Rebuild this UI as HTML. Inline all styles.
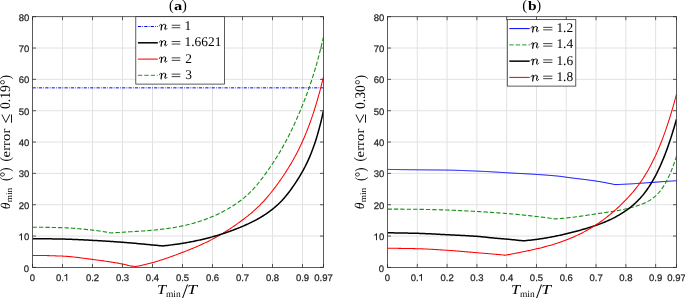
<!DOCTYPE html><html><head><meta charset="utf-8"><style>
html,body{margin:0;padding:0;background:#fff;overflow:hidden;}
svg{display:block;will-change:transform;}
text{text-rendering:geometricPrecision;}
.tk{font-family:"Liberation Sans",sans-serif;font-size:9.5px;fill:#262626;stroke:#262626;stroke-width:0.25px;}
.lg{font-family:"Liberation Serif",serif;font-size:13.4px;fill:#000;}
</style></head><body>
<svg width="685" height="298" viewBox="0 0 685 298">
<rect width="685" height="298" fill="#fff"/>
<line x1="62.50" y1="16.7" x2="62.50" y2="267.4" stroke="#e2e2e2"/>
<line x1="92.50" y1="16.7" x2="92.50" y2="267.4" stroke="#e2e2e2"/>
<line x1="122.50" y1="16.7" x2="122.50" y2="267.4" stroke="#e2e2e2"/>
<line x1="152.50" y1="16.7" x2="152.50" y2="267.4" stroke="#e2e2e2"/>
<line x1="182.50" y1="16.7" x2="182.50" y2="267.4" stroke="#e2e2e2"/>
<line x1="212.50" y1="16.7" x2="212.50" y2="267.4" stroke="#e2e2e2"/>
<line x1="242.50" y1="16.7" x2="242.50" y2="267.4" stroke="#e2e2e2"/>
<line x1="272.50" y1="16.7" x2="272.50" y2="267.4" stroke="#e2e2e2"/>
<line x1="302.50" y1="16.7" x2="302.50" y2="267.4" stroke="#e2e2e2"/>
<line x1="32.5" y1="236.06" x2="323.5" y2="236.06" stroke="#e2e2e2"/>
<line x1="32.5" y1="204.72" x2="323.5" y2="204.72" stroke="#e2e2e2"/>
<line x1="32.5" y1="173.39" x2="323.5" y2="173.39" stroke="#e2e2e2"/>
<line x1="32.5" y1="142.05" x2="323.5" y2="142.05" stroke="#e2e2e2"/>
<line x1="32.5" y1="110.71" x2="323.5" y2="110.71" stroke="#e2e2e2"/>
<line x1="32.5" y1="79.37" x2="323.5" y2="79.37" stroke="#e2e2e2"/>
<line x1="32.5" y1="48.04" x2="323.5" y2="48.04" stroke="#e2e2e2"/>
<line x1="417.29" y1="16.7" x2="417.29" y2="267.4" stroke="#e2e2e2"/>
<line x1="447.09" y1="16.7" x2="447.09" y2="267.4" stroke="#e2e2e2"/>
<line x1="476.88" y1="16.7" x2="476.88" y2="267.4" stroke="#e2e2e2"/>
<line x1="506.68" y1="16.7" x2="506.68" y2="267.4" stroke="#e2e2e2"/>
<line x1="536.47" y1="16.7" x2="536.47" y2="267.4" stroke="#e2e2e2"/>
<line x1="566.26" y1="16.7" x2="566.26" y2="267.4" stroke="#e2e2e2"/>
<line x1="596.06" y1="16.7" x2="596.06" y2="267.4" stroke="#e2e2e2"/>
<line x1="625.85" y1="16.7" x2="625.85" y2="267.4" stroke="#e2e2e2"/>
<line x1="655.64" y1="16.7" x2="655.64" y2="267.4" stroke="#e2e2e2"/>
<line x1="387.5" y1="236.06" x2="676.5" y2="236.06" stroke="#e2e2e2"/>
<line x1="387.5" y1="204.72" x2="676.5" y2="204.72" stroke="#e2e2e2"/>
<line x1="387.5" y1="173.39" x2="676.5" y2="173.39" stroke="#e2e2e2"/>
<line x1="387.5" y1="142.05" x2="676.5" y2="142.05" stroke="#e2e2e2"/>
<line x1="387.5" y1="110.71" x2="676.5" y2="110.71" stroke="#e2e2e2"/>
<line x1="387.5" y1="79.37" x2="676.5" y2="79.37" stroke="#e2e2e2"/>
<line x1="387.5" y1="48.04" x2="676.5" y2="48.04" stroke="#e2e2e2"/>
<defs><clipPath id="ca"><rect x="32.5" y="16.7" width="291.0" height="250.7"/></clipPath><clipPath id="cb"><rect x="387.5" y="16.7" width="289.0" height="250.7"/></clipPath></defs>
<g clip-path="url(#ca)">
<line x1="32.5" y1="87.85" x2="323.5" y2="87.85" stroke="#0000ff" stroke-width="1" stroke-dasharray="3.2 1.2 0.8 1.2" fill="none"/>
<path d="M32.50,227.19 L33.52,227.19 L34.54,227.20 L35.56,227.20 L36.58,227.21 L37.60,227.21 L38.62,227.22 L39.65,227.23 L40.67,227.24 L41.69,227.25 L42.71,227.27 L43.73,227.28 L44.75,227.29 L45.77,227.31 L46.79,227.33 L47.81,227.35 L48.83,227.37 L49.85,227.39 L50.87,227.41 L51.89,227.43 L52.92,227.45 L53.94,227.48 L54.96,227.50 L55.98,227.52 L57.00,227.55 L58.02,227.58 L59.04,227.60 L60.06,227.63 L61.08,227.66 L62.10,227.68 L63.12,227.71 L64.14,227.75 L65.16,227.79 L66.19,227.83 L67.21,227.88 L68.23,227.93 L69.25,227.99 L70.27,228.05 L71.29,228.12 L72.31,228.19 L73.33,228.26 L74.35,228.34 L75.37,228.42 L76.39,228.50 L77.41,228.59 L78.44,228.68 L79.46,228.77 L80.48,228.87 L81.50,228.96 L82.52,229.06 L83.54,229.16 L84.56,229.27 L85.58,229.37 L86.60,229.48 L87.62,229.58 L88.64,229.69 L89.66,229.80 L90.68,229.91 L91.71,230.02 L92.73,230.13 L93.75,230.25 L94.77,230.37 L95.79,230.50 L96.81,230.64 L97.83,230.78 L98.85,230.92 L99.87,231.08 L100.89,231.23 L101.91,231.39 L102.93,231.56 L103.95,231.73 L104.98,231.90 L106.00,232.08 L107.02,232.26 L108.04,232.44 L109.06,232.62 L110.08,232.80 L111.10,232.99 L112.11,232.92 L113.11,232.84 L114.12,232.77 L115.13,232.70 L116.13,232.63 L117.14,232.57 L118.15,232.50 L119.15,232.44 L120.16,232.37 L121.17,232.31 L122.17,232.25 L123.18,232.19 L124.19,232.12 L125.19,232.06 L126.20,232.00 L127.21,231.94 L128.21,231.88 L129.22,231.82 L130.23,231.76 L131.23,231.70 L132.24,231.64 L133.25,231.58 L134.25,231.52 L135.26,231.46 L136.27,231.40 L137.27,231.33 L138.28,231.27 L139.29,231.20 L140.29,231.14 L141.30,231.07 L142.31,231.00 L143.31,230.93 L144.32,230.86 L145.33,230.78 L146.33,230.71 L147.34,230.63 L148.35,230.55 L149.35,230.47 L150.36,230.38 L151.37,230.30 L152.37,230.21 L153.38,230.12 L154.39,230.02 L155.39,229.93 L156.40,229.83 L157.41,229.72 L158.41,229.62 L159.42,229.51 L160.43,229.40 L161.43,229.28 L162.44,229.16 L163.45,229.04 L164.45,228.91 L165.46,228.78 L166.46,228.65 L167.47,228.51 L168.48,228.37 L169.48,228.22 L170.49,228.07 L171.50,227.92 L172.50,227.76 L173.51,227.60 L174.52,227.43 L175.52,227.25 L176.53,227.07 L177.54,226.89 L178.54,226.70 L179.55,226.51 L180.56,226.31 L181.56,226.10 L182.57,225.89 L183.58,225.67 L184.58,225.45 L185.59,225.22 L186.60,224.99 L187.60,224.75 L188.61,224.50 L189.62,224.25 L190.62,223.99 L191.63,223.72 L192.64,223.45 L193.64,223.17 L194.65,222.88 L195.66,222.59 L196.66,222.29 L197.67,221.98 L198.68,221.67 L199.68,221.35 L200.69,221.02 L201.70,220.68 L202.70,220.33 L203.71,219.98 L204.72,219.62 L205.72,219.25 L206.73,218.87 L207.74,218.49 L208.74,218.09 L209.75,217.69 L210.76,217.28 L211.76,216.86 L212.77,216.43 L213.78,216.00 L214.78,215.55 L215.79,215.09 L216.80,214.63 L217.80,214.16 L218.81,213.67 L219.82,213.18 L220.82,212.68 L221.83,212.16 L222.84,211.64 L223.84,211.11 L224.85,210.57 L225.86,210.02 L226.86,209.45 L227.87,208.88 L228.88,208.30 L229.88,207.70 L230.89,207.10 L231.90,206.48 L232.90,205.85 L233.91,205.21 L234.92,204.55 L235.92,203.88 L236.93,203.20 L237.94,202.49 L238.94,201.77 L239.95,201.03 L240.96,200.27 L241.96,199.49 L242.97,198.68 L243.98,197.86 L244.98,197.01 L245.99,196.14 L247.00,195.25 L248.00,194.32 L249.01,193.38 L250.02,192.40 L251.02,191.40 L252.03,190.36 L253.04,189.30 L254.04,188.20 L255.05,187.08 L256.06,185.92 L257.06,184.73 L258.07,183.51 L259.08,182.27 L260.08,181.00 L261.09,179.70 L262.10,178.38 L263.10,177.05 L264.11,175.69 L265.12,174.32 L266.12,172.93 L267.13,171.52 L268.14,170.10 L269.14,168.66 L270.15,167.20 L271.15,165.73 L272.16,164.23 L273.17,162.71 L274.17,161.16 L275.18,159.60 L276.19,158.01 L277.19,156.39 L278.20,154.75 L279.21,153.07 L280.21,151.38 L281.22,149.65 L282.23,147.89 L283.23,146.11 L284.24,144.29 L285.25,142.44 L286.25,140.56 L287.26,138.64 L288.27,136.69 L289.27,134.71 L290.28,132.69 L291.29,130.64 L292.29,128.55 L293.30,126.42 L294.31,124.26 L295.31,122.06 L296.32,119.83 L297.33,117.56 L298.33,115.24 L299.34,112.89 L300.35,110.50 L301.35,108.08 L302.36,105.61 L303.37,103.10 L304.37,100.54 L305.38,97.93 L306.39,95.27 L307.39,92.55 L308.40,89.77 L309.41,86.91 L310.41,83.98 L311.42,80.97 L312.43,77.87 L313.43,74.69 L314.44,71.41 L315.45,68.02 L316.45,64.54 L317.46,60.94 L318.47,57.23 L319.47,53.39 L320.48,49.43 L321.49,45.35 L322.49,41.12 L323.50,36.76" stroke="#149114" stroke-width="1.1" stroke-dasharray="4.4 2.0" fill="none"/>
<path d="M32.50,255.40 L33.51,255.40 L34.53,255.40 L35.54,255.41 L36.56,255.42 L37.57,255.42 L38.59,255.44 L39.60,255.45 L40.62,255.46 L41.63,255.48 L42.65,255.50 L43.66,255.52 L44.68,255.54 L45.69,255.57 L46.71,255.59 L47.72,255.62 L48.74,255.64 L49.75,255.67 L50.76,255.70 L51.78,255.73 L52.79,255.77 L53.81,255.80 L54.82,255.83 L55.84,255.87 L56.85,255.90 L57.87,255.94 L58.88,255.98 L59.90,256.02 L60.91,256.06 L61.93,256.10 L62.94,256.14 L63.96,256.18 L64.97,256.24 L65.99,256.30 L67.00,256.37 L68.01,256.45 L69.03,256.53 L70.04,256.62 L71.06,256.72 L72.07,256.82 L73.09,256.92 L74.10,257.03 L75.12,257.15 L76.13,257.27 L77.15,257.39 L78.16,257.51 L79.18,257.64 L80.19,257.77 L81.21,257.90 L82.22,258.04 L83.24,258.17 L84.25,258.31 L85.26,258.45 L86.28,258.58 L87.29,258.72 L88.31,258.86 L89.32,258.99 L90.34,259.13 L91.35,259.26 L92.37,259.39 L93.38,259.52 L94.40,259.65 L95.41,259.79 L96.43,259.92 L97.44,260.05 L98.46,260.19 L99.47,260.33 L100.49,260.47 L101.50,260.61 L102.51,260.75 L103.53,260.89 L104.54,261.04 L105.56,261.19 L106.57,261.34 L107.59,261.49 L108.60,261.64 L109.62,261.80 L110.63,261.96 L111.65,262.12 L112.66,262.28 L113.68,262.45 L114.69,262.62 L115.71,262.79 L116.72,262.96 L117.74,263.14 L118.75,263.32 L119.76,263.51 L120.78,263.69 L121.79,263.88 L122.81,264.08 L123.82,264.30 L124.84,264.55 L125.85,264.82 L126.87,265.10 L127.88,265.37 L128.90,265.61 L129.91,265.83 L130.93,266.01 L131.94,266.13 L132.96,266.24 L133.97,266.34 L134.99,266.41 L136.00,266.46 L137.01,266.28 L138.02,266.10 L139.02,265.90 L140.03,265.70 L141.04,265.49 L142.05,265.28 L143.06,265.05 L144.06,264.83 L145.07,264.59 L146.08,264.35 L147.09,264.10 L148.10,263.85 L149.10,263.58 L150.11,263.32 L151.12,263.05 L152.13,262.77 L153.14,262.49 L154.15,262.20 L155.15,261.90 L156.16,261.60 L157.17,261.30 L158.18,260.99 L159.19,260.68 L160.19,260.36 L161.20,260.04 L162.21,259.71 L163.22,259.38 L164.23,259.04 L165.23,258.71 L166.24,258.36 L167.25,258.02 L168.26,257.67 L169.27,257.31 L170.27,256.95 L171.28,256.59 L172.29,256.23 L173.30,255.86 L174.31,255.49 L175.31,255.12 L176.32,254.75 L177.33,254.37 L178.34,253.99 L179.35,253.61 L180.35,253.22 L181.36,252.84 L182.37,252.45 L183.38,252.06 L184.39,251.67 L185.40,251.28 L186.40,250.88 L187.41,250.48 L188.42,250.08 L189.43,249.68 L190.44,249.27 L191.44,248.86 L192.45,248.45 L193.46,248.03 L194.47,247.61 L195.48,247.18 L196.48,246.75 L197.49,246.32 L198.50,245.88 L199.51,245.44 L200.52,244.99 L201.52,244.53 L202.53,244.07 L203.54,243.60 L204.55,243.13 L205.56,242.65 L206.56,242.17 L207.57,241.67 L208.58,241.17 L209.59,240.67 L210.60,240.15 L211.60,239.63 L212.61,239.10 L213.62,238.57 L214.63,238.02 L215.64,237.47 L216.65,236.91 L217.65,236.34 L218.66,235.76 L219.67,235.18 L220.68,234.59 L221.69,233.99 L222.69,233.38 L223.70,232.77 L224.71,232.15 L225.72,231.52 L226.73,230.88 L227.73,230.24 L228.74,229.59 L229.75,228.93 L230.76,228.27 L231.77,227.59 L232.77,226.91 L233.78,226.23 L234.79,225.53 L235.80,224.83 L236.81,224.12 L237.81,223.41 L238.82,222.69 L239.83,221.96 L240.84,221.22 L241.85,220.48 L242.85,219.73 L243.86,218.97 L244.87,218.20 L245.88,217.42 L246.89,216.63 L247.90,215.83 L248.90,215.01 L249.91,214.18 L250.92,213.34 L251.93,212.49 L252.94,211.61 L253.94,210.72 L254.95,209.82 L255.96,208.90 L256.97,207.95 L257.98,206.99 L258.98,206.01 L259.99,205.01 L261.00,203.99 L262.01,202.95 L263.02,201.88 L264.02,200.79 L265.03,199.67 L266.04,198.54 L267.05,197.38 L268.06,196.19 L269.06,194.99 L270.07,193.77 L271.08,192.52 L272.09,191.25 L273.10,189.96 L274.10,188.65 L275.11,187.32 L276.12,185.97 L277.13,184.60 L278.14,183.21 L279.15,181.80 L280.15,180.37 L281.16,178.93 L282.17,177.46 L283.18,175.97 L284.19,174.46 L285.19,172.93 L286.20,171.38 L287.21,169.79 L288.22,168.18 L289.23,166.54 L290.23,164.87 L291.24,163.17 L292.25,161.43 L293.26,159.66 L294.27,157.86 L295.27,156.01 L296.28,154.13 L297.29,152.19 L298.30,150.22 L299.31,148.19 L300.31,146.10 L301.32,143.97 L302.33,141.77 L303.34,139.51 L304.35,137.18 L305.35,134.79 L306.36,132.33 L307.37,129.79 L308.38,127.18 L309.39,124.49 L310.40,121.72 L311.40,118.86 L312.41,115.91 L313.42,112.87 L314.43,109.74 L315.44,106.51 L316.44,103.19 L317.45,99.76 L318.46,96.22 L319.47,92.58 L320.48,88.82 L321.48,84.96 L322.49,80.97 L323.50,76.87" stroke="#ff0000" stroke-width="1.05" fill="none"/>
<path d="M32.50,238.66 L33.51,238.66 L34.52,238.67 L35.53,238.67 L36.54,238.67 L37.55,238.68 L38.56,238.69 L39.57,238.69 L40.57,238.70 L41.58,238.71 L42.59,238.72 L43.60,238.74 L44.61,238.75 L45.62,238.76 L46.63,238.78 L47.64,238.79 L48.65,238.81 L49.66,238.82 L50.67,238.84 L51.68,238.86 L52.69,238.88 L53.70,238.90 L54.70,238.91 L55.71,238.93 L56.72,238.95 L57.73,238.97 L58.74,238.99 L59.75,239.01 L60.76,239.04 L61.77,239.06 L62.78,239.08 L63.79,239.10 L64.80,239.12 L65.81,239.15 L66.82,239.18 L67.83,239.21 L68.83,239.25 L69.84,239.28 L70.85,239.32 L71.86,239.36 L72.87,239.40 L73.88,239.44 L74.89,239.48 L75.90,239.53 L76.91,239.57 L77.92,239.62 L78.93,239.67 L79.94,239.71 L80.95,239.76 L81.96,239.81 L82.97,239.86 L83.97,239.92 L84.98,239.97 L85.99,240.02 L87.00,240.07 L88.01,240.12 L89.02,240.18 L90.03,240.23 L91.04,240.28 L92.05,240.33 L93.06,240.38 L94.07,240.44 L95.08,240.49 L96.09,240.55 L97.10,240.60 L98.10,240.66 L99.11,240.71 L100.12,240.77 L101.13,240.83 L102.14,240.89 L103.15,240.95 L104.16,241.01 L105.17,241.08 L106.18,241.14 L107.19,241.20 L108.20,241.27 L109.21,241.33 L110.22,241.40 L111.23,241.47 L112.23,241.54 L113.24,241.60 L114.25,241.67 L115.26,241.74 L116.27,241.82 L117.28,241.89 L118.29,241.96 L119.30,242.03 L120.31,242.11 L121.32,242.18 L122.33,242.25 L123.34,242.33 L124.35,242.41 L125.36,242.49 L126.37,242.57 L127.37,242.65 L128.38,242.73 L129.39,242.82 L130.40,242.91 L131.41,242.99 L132.42,243.08 L133.43,243.17 L134.44,243.27 L135.45,243.36 L136.46,243.45 L137.47,243.54 L138.48,243.64 L139.49,243.73 L140.50,243.83 L141.50,243.92 L142.51,244.02 L143.52,244.11 L144.53,244.21 L145.54,244.31 L146.55,244.40 L147.56,244.50 L148.57,244.59 L149.58,244.69 L150.59,244.78 L151.60,244.88 L152.61,244.97 L153.62,245.07 L154.63,245.16 L155.63,245.26 L156.64,245.35 L157.65,245.45 L158.66,245.55 L159.67,245.64 L160.68,245.74 L161.69,245.84 L162.70,245.93 L163.71,245.83 L164.72,245.72 L165.73,245.61 L166.75,245.49 L167.76,245.38 L168.77,245.26 L169.78,245.13 L170.79,245.01 L171.80,244.88 L172.81,244.75 L173.82,244.61 L174.84,244.47 L175.85,244.33 L176.86,244.19 L177.87,244.04 L178.88,243.89 L179.89,243.73 L180.90,243.58 L181.92,243.42 L182.93,243.25 L183.94,243.08 L184.95,242.91 L185.96,242.74 L186.97,242.56 L187.98,242.38 L188.99,242.19 L190.01,242.01 L191.02,241.81 L192.03,241.62 L193.04,241.42 L194.05,241.21 L195.06,241.01 L196.07,240.79 L197.08,240.58 L198.10,240.36 L199.11,240.14 L200.12,239.91 L201.13,239.68 L202.14,239.44 L203.15,239.20 L204.16,238.96 L205.18,238.71 L206.19,238.46 L207.20,238.21 L208.21,237.95 L209.22,237.68 L210.23,237.41 L211.24,237.14 L212.25,236.86 L213.27,236.58 L214.28,236.29 L215.29,236.00 L216.30,235.71 L217.31,235.41 L218.32,235.10 L219.33,234.79 L220.35,234.48 L221.36,234.16 L222.37,233.84 L223.38,233.51 L224.39,233.18 L225.40,232.84 L226.41,232.49 L227.42,232.15 L228.44,231.79 L229.45,231.44 L230.46,231.07 L231.47,230.71 L232.48,230.33 L233.49,229.96 L234.50,229.57 L235.52,229.18 L236.53,228.79 L237.54,228.39 L238.55,227.99 L239.56,227.58 L240.57,227.16 L241.58,226.74 L242.59,226.32 L243.61,225.89 L244.62,225.45 L245.63,225.00 L246.64,224.55 L247.65,224.10 L248.66,223.63 L249.67,223.16 L250.68,222.67 L251.70,222.18 L252.71,221.68 L253.72,221.16 L254.73,220.64 L255.74,220.11 L256.75,219.56 L257.76,219.00 L258.78,218.43 L259.79,217.85 L260.80,217.25 L261.81,216.63 L262.82,216.01 L263.83,215.37 L264.84,214.71 L265.85,214.03 L266.87,213.34 L267.88,212.64 L268.89,211.91 L269.90,211.17 L270.91,210.41 L271.92,209.63 L272.93,208.83 L273.95,208.01 L274.96,207.17 L275.97,206.30 L276.98,205.41 L277.99,204.48 L279.00,203.53 L280.01,202.54 L281.02,201.51 L282.04,200.45 L283.05,199.35 L284.06,198.20 L285.07,197.02 L286.08,195.80 L287.09,194.55 L288.10,193.26 L289.12,191.94 L290.13,190.58 L291.14,189.19 L292.15,187.77 L293.16,186.32 L294.17,184.84 L295.18,183.33 L296.19,181.80 L297.21,180.24 L298.22,178.65 L299.23,177.03 L300.24,175.36 L301.25,173.65 L302.26,171.89 L303.27,170.07 L304.28,168.18 L305.30,166.23 L306.31,164.20 L307.32,162.09 L308.33,159.90 L309.34,157.61 L310.35,155.22 L311.36,152.71 L312.38,150.09 L313.39,147.34 L314.40,144.44 L315.41,141.41 L316.42,138.21 L317.43,134.85 L318.44,131.32 L319.45,127.60 L320.47,123.69 L321.48,119.58 L322.49,115.25 L323.50,110.71" stroke="#000" stroke-width="1.5" fill="none" stroke-linejoin="round"/>
</g>
<g clip-path="url(#cb)">
<path d="M387.50,169.41 L388.50,169.42 L389.50,169.44 L390.50,169.45 L391.49,169.47 L392.49,169.48 L393.49,169.50 L394.49,169.51 L395.49,169.53 L396.49,169.54 L397.48,169.56 L398.48,169.57 L399.48,169.59 L400.48,169.60 L401.48,169.62 L402.48,169.63 L403.47,169.64 L404.47,169.66 L405.47,169.67 L406.47,169.68 L407.47,169.70 L408.47,169.71 L409.46,169.72 L410.46,169.73 L411.46,169.75 L412.46,169.76 L413.46,169.77 L414.46,169.78 L415.45,169.79 L416.45,169.81 L417.45,169.82 L418.45,169.83 L419.45,169.84 L420.45,169.85 L421.44,169.86 L422.44,169.87 L423.44,169.87 L424.44,169.88 L425.44,169.89 L426.44,169.90 L427.43,169.91 L428.43,169.91 L429.43,169.92 L430.43,169.93 L431.43,169.94 L432.43,169.94 L433.42,169.95 L434.42,169.96 L435.42,169.97 L436.42,169.98 L437.42,169.99 L438.42,169.99 L439.41,170.00 L440.41,170.01 L441.41,170.03 L442.41,170.04 L443.41,170.05 L444.41,170.06 L445.40,170.07 L446.40,170.09 L447.40,170.10 L448.40,170.12 L449.40,170.14 L450.40,170.16 L451.39,170.18 L452.39,170.20 L453.39,170.23 L454.39,170.25 L455.39,170.28 L456.39,170.31 L457.38,170.34 L458.38,170.37 L459.38,170.41 L460.38,170.44 L461.38,170.48 L462.38,170.51 L463.37,170.55 L464.37,170.59 L465.37,170.63 L466.37,170.67 L467.37,170.71 L468.37,170.75 L469.37,170.79 L470.36,170.83 L471.36,170.87 L472.36,170.91 L473.36,170.95 L474.36,170.99 L475.36,171.04 L476.35,171.08 L477.35,171.12 L478.35,171.16 L479.35,171.21 L480.35,171.25 L481.35,171.30 L482.34,171.34 L483.34,171.39 L484.34,171.44 L485.34,171.49 L486.34,171.54 L487.34,171.59 L488.33,171.65 L489.33,171.70 L490.33,171.76 L491.33,171.81 L492.33,171.87 L493.33,171.92 L494.32,171.98 L495.32,172.04 L496.32,172.10 L497.32,172.15 L498.32,172.21 L499.32,172.27 L500.31,172.33 L501.31,172.40 L502.31,172.46 L503.31,172.53 L504.31,172.60 L505.31,172.67 L506.30,172.74 L507.30,172.80 L508.30,172.86 L509.30,172.92 L510.30,172.98 L511.30,173.03 L512.29,173.09 L513.29,173.14 L514.29,173.20 L515.29,173.25 L516.29,173.30 L517.29,173.35 L518.28,173.40 L519.28,173.46 L520.28,173.51 L521.28,173.56 L522.28,173.61 L523.28,173.66 L524.27,173.71 L525.27,173.77 L526.27,173.82 L527.27,173.87 L528.27,173.93 L529.27,173.98 L530.26,174.04 L531.26,174.10 L532.26,174.16 L533.26,174.22 L534.26,174.28 L535.26,174.34 L536.25,174.41 L537.25,174.47 L538.25,174.54 L539.25,174.61 L540.25,174.68 L541.25,174.74 L542.24,174.81 L543.24,174.88 L544.24,174.95 L545.24,175.03 L546.24,175.10 L547.24,175.18 L548.24,175.25 L549.23,175.33 L550.23,175.41 L551.23,175.49 L552.23,175.58 L553.23,175.67 L554.23,175.76 L555.22,175.85 L556.22,175.94 L557.22,176.04 L558.22,176.14 L559.22,176.25 L560.22,176.35 L561.21,176.47 L562.21,176.60 L563.21,176.75 L564.21,176.90 L565.21,177.06 L566.21,177.20 L567.20,177.34 L568.20,177.47 L569.20,177.60 L570.20,177.73 L571.20,177.86 L572.20,177.99 L573.19,178.11 L574.19,178.23 L575.19,178.36 L576.19,178.48 L577.19,178.60 L578.19,178.72 L579.18,178.84 L580.18,178.96 L581.18,179.08 L582.18,179.20 L583.18,179.32 L584.18,179.44 L585.17,179.57 L586.17,179.69 L587.17,179.82 L588.17,179.95 L589.17,180.08 L590.17,180.22 L591.16,180.35 L592.16,180.49 L593.16,180.63 L594.16,180.78 L595.16,180.93 L596.16,181.08 L597.15,181.24 L598.15,181.40 L599.15,181.56 L600.15,181.73 L601.15,181.90 L602.15,182.08 L603.14,182.26 L604.14,182.44 L605.14,182.62 L606.14,182.81 L607.14,183.00 L608.14,183.20 L609.13,183.39 L610.13,183.59 L611.13,183.79 L612.13,183.99 L613.13,184.19 L614.13,184.40 L615.12,184.61 L616.15,184.57 L617.17,184.54 L618.19,184.50 L619.22,184.47 L620.24,184.43 L621.26,184.38 L622.29,184.34 L623.31,184.29 L624.33,184.24 L625.35,184.19 L626.38,184.14 L627.40,184.08 L628.42,184.03 L629.45,183.97 L630.47,183.91 L631.49,183.85 L632.51,183.78 L633.54,183.72 L634.56,183.66 L635.58,183.59 L636.61,183.52 L637.63,183.45 L638.65,183.38 L639.67,183.31 L640.70,183.24 L641.72,183.17 L642.74,183.10 L643.77,183.03 L644.79,182.95 L645.81,182.88 L646.84,182.80 L647.86,182.73 L648.88,182.65 L649.90,182.58 L650.93,182.50 L651.95,182.42 L652.97,182.35 L654.00,182.27 L655.02,182.20 L656.04,182.12 L657.06,182.05 L658.09,181.97 L659.11,181.90 L660.13,181.82 L661.16,181.75 L662.18,181.67 L663.20,181.60 L664.22,181.53 L665.25,181.46 L666.27,181.39 L667.29,181.32 L668.32,181.25 L669.34,181.18 L670.36,181.12 L671.39,181.05 L672.41,180.99 L673.43,180.93 L674.45,180.87 L675.48,180.81 L676.50,180.75" stroke="#0000ff" stroke-width="1" fill="none"/>
<path d="M387.50,209.11 L388.50,209.11 L389.51,209.11 L390.51,209.11 L391.51,209.12 L392.52,209.12 L393.52,209.12 L394.53,209.13 L395.53,209.13 L396.53,209.13 L397.54,209.14 L398.54,209.14 L399.54,209.15 L400.55,209.16 L401.55,209.16 L402.56,209.17 L403.56,209.18 L404.56,209.18 L405.57,209.19 L406.57,209.20 L407.57,209.21 L408.58,209.22 L409.58,209.23 L410.59,209.24 L411.59,209.24 L412.59,209.25 L413.60,209.26 L414.60,209.27 L415.60,209.28 L416.61,209.29 L417.61,209.30 L418.62,209.31 L419.62,209.33 L420.62,209.34 L421.63,209.36 L422.63,209.37 L423.63,209.39 L424.64,209.41 L425.64,209.43 L426.64,209.45 L427.65,209.48 L428.65,209.50 L429.66,209.52 L430.66,209.55 L431.66,209.58 L432.67,209.60 L433.67,209.63 L434.67,209.66 L435.68,209.69 L436.68,209.72 L437.69,209.75 L438.69,209.78 L439.69,209.81 L440.70,209.84 L441.70,209.88 L442.70,209.91 L443.71,209.94 L444.71,209.97 L445.72,210.01 L446.72,210.04 L447.72,210.07 L448.73,210.11 L449.73,210.15 L450.73,210.18 L451.74,210.22 L452.74,210.26 L453.75,210.30 L454.75,210.35 L455.75,210.39 L456.76,210.44 L457.76,210.48 L458.76,210.53 L459.77,210.58 L460.77,210.63 L461.77,210.68 L462.78,210.73 L463.78,210.78 L464.79,210.83 L465.79,210.88 L466.79,210.94 L467.80,210.99 L468.80,211.04 L469.80,211.10 L470.81,211.15 L471.81,211.21 L472.82,211.27 L473.82,211.32 L474.82,211.38 L475.83,211.43 L476.83,211.49 L477.83,211.55 L478.84,211.61 L479.84,211.66 L480.85,211.72 L481.85,211.78 L482.85,211.84 L483.86,211.90 L484.86,211.96 L485.86,212.02 L486.87,212.09 L487.87,212.15 L488.87,212.22 L489.88,212.28 L490.88,212.35 L491.89,212.41 L492.89,212.48 L493.89,212.55 L494.90,212.62 L495.90,212.69 L496.90,212.76 L497.91,212.83 L498.91,212.90 L499.92,212.98 L500.92,213.05 L501.92,213.13 L502.93,213.20 L503.93,213.28 L504.93,213.36 L505.94,213.44 L506.94,213.52 L507.95,213.60 L508.95,213.69 L509.95,213.77 L510.96,213.86 L511.96,213.95 L512.96,214.04 L513.97,214.13 L514.97,214.23 L515.98,214.32 L516.98,214.42 L517.98,214.52 L518.99,214.62 L519.99,214.72 L520.99,214.82 L522.00,214.92 L523.00,215.03 L524.00,215.13 L525.01,215.24 L526.01,215.35 L527.02,215.46 L528.02,215.56 L529.02,215.67 L530.03,215.78 L531.03,215.90 L532.03,216.01 L533.04,216.12 L534.04,216.23 L535.05,216.35 L536.05,216.46 L537.05,216.57 L538.06,216.69 L539.06,216.81 L540.06,216.93 L541.07,217.05 L542.07,217.17 L543.08,217.30 L544.08,217.42 L545.08,217.55 L546.09,217.68 L547.09,217.81 L548.09,217.94 L549.10,218.07 L550.10,218.21 L551.11,218.34 L552.11,218.48 L553.11,218.61 L554.12,218.75 L555.12,218.89 L556.12,218.83 L557.13,218.77 L558.13,218.70 L559.13,218.63 L560.14,218.55 L561.14,218.47 L562.14,218.39 L563.15,218.30 L564.15,218.20 L565.15,218.10 L566.15,218.00 L567.16,217.90 L568.16,217.79 L569.16,217.67 L570.17,217.56 L571.17,217.44 L572.17,217.32 L573.18,217.19 L574.18,217.07 L575.18,216.93 L576.19,216.80 L577.19,216.67 L578.19,216.53 L579.20,216.39 L580.20,216.25 L581.20,216.11 L582.20,215.96 L583.21,215.82 L584.21,215.67 L585.21,215.52 L586.22,215.37 L587.22,215.22 L588.22,215.07 L589.23,214.91 L590.23,214.76 L591.23,214.61 L592.24,214.46 L593.24,214.30 L594.24,214.15 L595.25,214.00 L596.25,213.84 L597.25,213.69 L598.26,213.54 L599.26,213.39 L600.26,213.24 L601.26,213.09 L602.27,212.94 L603.27,212.79 L604.27,212.65 L605.28,212.50 L606.28,212.35 L607.28,212.20 L608.29,212.05 L609.29,211.90 L610.29,211.75 L611.30,211.59 L612.30,211.43 L613.30,211.27 L614.31,211.11 L615.31,210.94 L616.31,210.77 L617.31,210.60 L618.32,210.42 L619.32,210.23 L620.32,210.05 L621.33,209.85 L622.33,209.65 L623.33,209.45 L624.34,209.23 L625.34,209.01 L626.34,208.79 L627.35,208.55 L628.35,208.31 L629.35,208.07 L630.36,207.81 L631.36,207.54 L632.36,207.27 L633.36,206.98 L634.37,206.69 L635.37,206.39 L636.37,206.07 L637.38,205.75 L638.38,205.41 L639.38,205.07 L640.39,204.71 L641.39,204.34 L642.39,203.95 L643.40,203.55 L644.40,203.12 L645.40,202.67 L646.41,202.19 L647.41,201.68 L648.41,201.14 L649.42,200.55 L650.42,199.93 L651.42,199.25 L652.42,198.53 L653.43,197.76 L654.43,196.94 L655.43,196.05 L656.44,195.10 L657.44,194.09 L658.44,193.00 L659.45,191.84 L660.45,190.61 L661.45,189.28 L662.46,187.88 L663.46,186.37 L664.46,184.77 L665.47,183.07 L666.47,181.26 L667.47,179.33 L668.47,177.29 L669.48,175.13 L670.48,172.84 L671.48,170.41 L672.49,167.86 L673.49,165.15 L674.49,162.31 L675.50,159.31 L676.50,156.15" stroke="#149114" stroke-width="1.1" stroke-dasharray="4.4 2.0" fill="none"/>
<path d="M387.50,232.83 L388.51,232.84 L389.51,232.84 L390.52,232.85 L391.52,232.85 L392.53,232.86 L393.53,232.87 L394.54,232.88 L395.54,232.89 L396.55,232.91 L397.55,232.92 L398.56,232.94 L399.56,232.95 L400.57,232.97 L401.57,232.99 L402.58,233.00 L403.58,233.02 L404.59,233.04 L405.59,233.06 L406.60,233.09 L407.61,233.11 L408.61,233.13 L409.62,233.15 L410.62,233.18 L411.63,233.20 L412.63,233.22 L413.64,233.25 L414.64,233.27 L415.65,233.30 L416.65,233.32 L417.66,233.35 L418.66,233.37 L419.67,233.40 L420.67,233.43 L421.68,233.47 L422.68,233.50 L423.69,233.54 L424.69,233.58 L425.70,233.63 L426.71,233.67 L427.71,233.71 L428.72,233.76 L429.72,233.81 L430.73,233.86 L431.73,233.91 L432.74,233.96 L433.74,234.01 L434.75,234.06 L435.75,234.12 L436.76,234.17 L437.76,234.22 L438.77,234.28 L439.77,234.33 L440.78,234.39 L441.78,234.44 L442.79,234.49 L443.79,234.55 L444.80,234.60 L445.81,234.65 L446.81,234.70 L447.82,234.75 L448.82,234.80 L449.83,234.85 L450.83,234.90 L451.84,234.95 L452.84,235.00 L453.85,235.05 L454.85,235.09 L455.86,235.14 L456.86,235.19 L457.87,235.24 L458.87,235.29 L459.88,235.34 L460.88,235.39 L461.89,235.44 L462.89,235.50 L463.90,235.55 L464.91,235.60 L465.91,235.66 L466.92,235.71 L467.92,235.77 L468.93,235.83 L469.93,235.89 L470.94,235.95 L471.94,236.01 L472.95,236.08 L473.95,236.14 L474.96,236.21 L475.96,236.28 L476.97,236.35 L477.97,236.43 L478.98,236.51 L479.98,236.60 L480.99,236.69 L481.99,236.78 L483.00,236.88 L484.01,236.99 L485.01,237.09 L486.02,237.20 L487.02,237.31 L488.03,237.41 L489.03,237.52 L490.04,237.63 L491.04,237.73 L492.05,237.84 L493.05,237.94 L494.06,238.03 L495.06,238.13 L496.07,238.22 L497.07,238.31 L498.08,238.39 L499.08,238.48 L500.09,238.56 L501.09,238.65 L502.10,238.73 L503.11,238.82 L504.11,238.90 L505.12,238.99 L506.12,239.08 L507.13,239.18 L508.13,239.27 L509.14,239.37 L510.14,239.46 L511.15,239.56 L512.15,239.66 L513.16,239.76 L514.16,239.86 L515.17,239.97 L516.17,240.07 L517.18,240.17 L518.18,240.28 L519.19,240.39 L520.20,240.49 L521.20,240.60 L522.21,240.71 L523.21,240.83 L524.21,240.74 L525.21,240.65 L526.22,240.56 L527.22,240.46 L528.22,240.36 L529.22,240.26 L530.22,240.15 L531.23,240.04 L532.23,239.92 L533.23,239.80 L534.23,239.68 L535.23,239.55 L536.24,239.42 L537.24,239.28 L538.24,239.14 L539.24,239.00 L540.24,238.85 L541.24,238.70 L542.25,238.55 L543.25,238.39 L544.25,238.23 L545.25,238.07 L546.25,237.90 L547.26,237.73 L548.26,237.55 L549.26,237.37 L550.26,237.19 L551.26,237.00 L552.27,236.81 L553.27,236.62 L554.27,236.43 L555.27,236.23 L556.27,236.02 L557.28,235.82 L558.28,235.61 L559.28,235.39 L560.28,235.18 L561.28,234.95 L562.28,234.73 L563.29,234.50 L564.29,234.27 L565.29,234.04 L566.29,233.80 L567.29,233.56 L568.30,233.32 L569.30,233.07 L570.30,232.83 L571.30,232.57 L572.30,232.32 L573.31,232.06 L574.31,231.80 L575.31,231.53 L576.31,231.26 L577.31,230.99 L578.31,230.72 L579.32,230.44 L580.32,230.16 L581.32,229.88 L582.32,229.59 L583.32,229.30 L584.33,229.01 L585.33,228.71 L586.33,228.42 L587.33,228.12 L588.33,227.81 L589.34,227.50 L590.34,227.19 L591.34,226.88 L592.34,226.56 L593.34,226.23 L594.35,225.90 L595.35,225.56 L596.35,225.22 L597.35,224.87 L598.35,224.51 L599.35,224.15 L600.36,223.78 L601.36,223.40 L602.36,223.01 L603.36,222.61 L604.36,222.21 L605.37,221.79 L606.37,221.37 L607.37,220.93 L608.37,220.49 L609.37,220.03 L610.38,219.57 L611.38,219.09 L612.38,218.60 L613.38,218.09 L614.38,217.58 L615.38,217.05 L616.39,216.51 L617.39,215.95 L618.39,215.38 L619.39,214.80 L620.39,214.20 L621.40,213.59 L622.40,212.96 L623.40,212.31 L624.40,211.65 L625.40,210.97 L626.41,210.28 L627.41,209.56 L628.41,208.83 L629.41,208.08 L630.41,207.30 L631.41,206.50 L632.42,205.67 L633.42,204.82 L634.42,203.93 L635.42,203.02 L636.42,202.07 L637.43,201.09 L638.43,200.07 L639.43,199.02 L640.43,197.93 L641.43,196.79 L642.44,195.62 L643.44,194.40 L644.44,193.13 L645.44,191.82 L646.44,190.46 L647.45,189.05 L648.45,187.59 L649.45,186.08 L650.45,184.51 L651.45,182.88 L652.45,181.20 L653.46,179.45 L654.46,177.65 L655.46,175.78 L656.46,173.85 L657.46,171.85 L658.47,169.78 L659.47,167.64 L660.47,165.44 L661.47,163.16 L662.47,160.80 L663.48,158.38 L664.48,155.87 L665.48,153.28 L666.48,150.62 L667.48,147.87 L668.48,145.04 L669.49,142.12 L670.49,139.12 L671.49,136.02 L672.49,132.84 L673.49,129.57 L674.50,126.20 L675.50,122.74 L676.50,119.18" stroke="#000" stroke-width="1.5" fill="none" stroke-linejoin="round"/>
<path d="M387.50,248.28 L388.51,248.28 L389.52,248.29 L390.53,248.29 L391.54,248.29 L392.55,248.30 L393.56,248.31 L394.57,248.31 L395.58,248.32 L396.58,248.33 L397.59,248.34 L398.60,248.36 L399.61,248.37 L400.62,248.38 L401.63,248.40 L402.64,248.41 L403.65,248.43 L404.66,248.44 L405.67,248.46 L406.68,248.48 L407.69,248.50 L408.70,248.51 L409.71,248.53 L410.72,248.55 L411.73,248.57 L412.74,248.59 L413.75,248.62 L414.75,248.64 L415.76,248.66 L416.77,248.68 L417.78,248.70 L418.79,248.73 L419.80,248.76 L420.81,248.79 L421.82,248.82 L422.83,248.86 L423.84,248.90 L424.85,248.95 L425.86,248.99 L426.87,249.04 L427.88,249.09 L428.89,249.15 L429.90,249.20 L430.91,249.26 L431.91,249.32 L432.92,249.37 L433.93,249.44 L434.94,249.50 L435.95,249.56 L436.96,249.63 L437.97,249.69 L438.98,249.76 L439.99,249.82 L441.00,249.89 L442.01,249.96 L443.02,250.02 L444.03,250.09 L445.04,250.16 L446.05,250.22 L447.06,250.29 L448.07,250.35 L449.07,250.42 L450.08,250.49 L451.09,250.56 L452.10,250.64 L453.11,250.71 L454.12,250.79 L455.13,250.87 L456.14,250.95 L457.15,251.03 L458.16,251.11 L459.17,251.19 L460.18,251.28 L461.19,251.36 L462.20,251.45 L463.21,251.53 L464.22,251.62 L465.23,251.71 L466.24,251.79 L467.24,251.88 L468.25,251.97 L469.26,252.05 L470.27,252.14 L471.28,252.23 L472.29,252.32 L473.30,252.40 L474.31,252.49 L475.32,252.57 L476.33,252.66 L477.34,252.74 L478.35,252.82 L479.36,252.91 L480.37,252.99 L481.38,253.07 L482.39,253.16 L483.40,253.24 L484.40,253.32 L485.41,253.41 L486.42,253.49 L487.43,253.58 L488.44,253.66 L489.45,253.75 L490.46,253.83 L491.47,253.92 L492.48,254.01 L493.49,254.10 L494.50,254.18 L495.51,254.27 L496.52,254.36 L497.53,254.46 L498.54,254.55 L499.55,254.64 L500.56,254.73 L501.56,254.83 L502.57,254.92 L503.58,255.02 L504.59,255.11 L505.60,255.21 L506.60,255.01 L507.60,254.82 L508.60,254.62 L509.60,254.42 L510.60,254.23 L511.60,254.03 L512.60,253.84 L513.60,253.64 L514.60,253.45 L515.60,253.25 L516.60,253.05 L517.60,252.86 L518.59,252.66 L519.59,252.46 L520.59,252.26 L521.59,252.06 L522.59,251.86 L523.59,251.66 L524.59,251.46 L525.59,251.25 L526.59,251.04 L527.59,250.83 L528.59,250.62 L529.59,250.41 L530.59,250.19 L531.59,249.98 L532.59,249.76 L533.59,249.53 L534.59,249.31 L535.58,249.08 L536.58,248.85 L537.58,248.61 L538.58,248.38 L539.58,248.14 L540.58,247.89 L541.58,247.64 L542.58,247.39 L543.58,247.13 L544.58,246.87 L545.58,246.61 L546.58,246.34 L547.58,246.07 L548.58,245.79 L549.58,245.51 L550.58,245.22 L551.58,244.93 L552.57,244.63 L553.57,244.33 L554.57,244.02 L555.57,243.71 L556.57,243.39 L557.57,243.06 L558.57,242.73 L559.57,242.39 L560.57,242.05 L561.57,241.70 L562.57,241.34 L563.57,240.98 L564.57,240.61 L565.57,240.24 L566.57,239.85 L567.57,239.46 L568.56,239.07 L569.56,238.66 L570.56,238.25 L571.56,237.83 L572.56,237.40 L573.56,236.97 L574.56,236.52 L575.56,236.07 L576.56,235.61 L577.56,235.14 L578.56,234.67 L579.56,234.18 L580.56,233.69 L581.56,233.18 L582.56,232.67 L583.56,232.15 L584.56,231.62 L585.55,231.08 L586.55,230.53 L587.55,229.97 L588.55,229.40 L589.55,228.82 L590.55,228.23 L591.55,227.63 L592.55,227.02 L593.55,226.40 L594.55,225.77 L595.55,225.12 L596.55,224.47 L597.55,223.81 L598.55,223.13 L599.55,222.44 L600.55,221.74 L601.55,221.03 L602.54,220.31 L603.54,219.58 L604.54,218.83 L605.54,218.08 L606.54,217.31 L607.54,216.53 L608.54,215.73 L609.54,214.92 L610.54,214.10 L611.54,213.27 L612.54,212.42 L613.54,211.57 L614.54,210.69 L615.54,209.81 L616.54,208.91 L617.54,208.00 L618.53,207.07 L619.53,206.13 L620.53,205.17 L621.53,204.20 L622.53,203.22 L623.53,202.22 L624.53,201.21 L625.53,200.18 L626.53,199.14 L627.53,198.08 L628.53,197.01 L629.53,195.91 L630.53,194.80 L631.53,193.66 L632.53,192.50 L633.53,191.31 L634.53,190.10 L635.52,188.85 L636.52,187.58 L637.52,186.28 L638.52,184.94 L639.52,183.57 L640.52,182.16 L641.52,180.72 L642.52,179.23 L643.52,177.70 L644.52,176.13 L645.52,174.52 L646.52,172.86 L647.52,171.16 L648.52,169.40 L649.52,167.60 L650.52,165.74 L651.52,163.83 L652.51,161.86 L653.51,159.84 L654.51,157.76 L655.51,155.62 L656.51,153.42 L657.51,151.16 L658.51,148.83 L659.51,146.43 L660.51,143.97 L661.51,141.44 L662.51,138.84 L663.51,136.16 L664.51,133.41 L665.51,130.59 L666.51,127.69 L667.51,124.71 L668.50,121.65 L669.50,118.51 L670.50,115.29 L671.50,111.98 L672.50,108.58 L673.50,105.10 L674.50,101.53 L675.50,97.87 L676.50,94.11" stroke="#ff0000" stroke-width="1.05" fill="none"/>
</g>
<line x1="32.50" y1="267.4" x2="32.50" y2="263.9" stroke="#262626" stroke-width="0.75"/>
<line x1="32.50" y1="16.7" x2="32.50" y2="20.2" stroke="#262626" stroke-width="0.75"/>
<text x="29.84" y="280.75" class="tk">0</text>
<line x1="62.50" y1="267.4" x2="62.50" y2="263.9" stroke="#262626" stroke-width="0.75"/>
<line x1="62.50" y1="16.7" x2="62.50" y2="20.2" stroke="#262626" stroke-width="0.75"/>
<text x="55.95" y="280.75" class="tk">0.</text>
<path d="M66.72,280.75 L66.72,274.00" stroke="#262626" fill="none" stroke-width="1.04"/>
<path d="M66.91,274.10 L66.24,274.00 C66.05,274.95 65.20,275.43 64.15,275.43 L64.15,276.19 C65.29,276.19 66.05,275.81 66.91,275.24 Z" fill="#262626"/>
<line x1="92.50" y1="267.4" x2="92.50" y2="263.9" stroke="#262626" stroke-width="0.75"/>
<line x1="92.50" y1="16.7" x2="92.50" y2="20.2" stroke="#262626" stroke-width="0.75"/>
<text x="85.94" y="280.75" class="tk">0.2</text>
<line x1="122.50" y1="267.4" x2="122.50" y2="263.9" stroke="#262626" stroke-width="0.75"/>
<line x1="122.50" y1="16.7" x2="122.50" y2="20.2" stroke="#262626" stroke-width="0.75"/>
<text x="115.90" y="280.75" class="tk">0.3</text>
<line x1="152.50" y1="267.4" x2="152.50" y2="263.9" stroke="#262626" stroke-width="0.75"/>
<line x1="152.50" y1="16.7" x2="152.50" y2="20.2" stroke="#262626" stroke-width="0.75"/>
<text x="145.85" y="280.75" class="tk">0.4</text>
<line x1="182.50" y1="267.4" x2="182.50" y2="263.9" stroke="#262626" stroke-width="0.75"/>
<line x1="182.50" y1="16.7" x2="182.50" y2="20.2" stroke="#262626" stroke-width="0.75"/>
<text x="175.90" y="280.75" class="tk">0.5</text>
<line x1="212.50" y1="267.4" x2="212.50" y2="263.9" stroke="#262626" stroke-width="0.75"/>
<line x1="212.50" y1="16.7" x2="212.50" y2="20.2" stroke="#262626" stroke-width="0.75"/>
<text x="205.90" y="280.75" class="tk">0.6</text>
<line x1="242.50" y1="267.4" x2="242.50" y2="263.9" stroke="#262626" stroke-width="0.75"/>
<line x1="242.50" y1="16.7" x2="242.50" y2="20.2" stroke="#262626" stroke-width="0.75"/>
<text x="235.94" y="280.75" class="tk">0.7</text>
<line x1="272.50" y1="267.4" x2="272.50" y2="263.9" stroke="#262626" stroke-width="0.75"/>
<line x1="272.50" y1="16.7" x2="272.50" y2="20.2" stroke="#262626" stroke-width="0.75"/>
<text x="265.90" y="280.75" class="tk">0.8</text>
<line x1="302.50" y1="267.4" x2="302.50" y2="263.9" stroke="#262626" stroke-width="0.75"/>
<line x1="302.50" y1="16.7" x2="302.50" y2="20.2" stroke="#262626" stroke-width="0.75"/>
<text x="295.95" y="280.75" class="tk">0.9</text>
<line x1="323.50" y1="267.4" x2="323.50" y2="263.9" stroke="#262626" stroke-width="0.75"/>
<line x1="323.50" y1="16.7" x2="323.50" y2="20.2" stroke="#262626" stroke-width="0.75"/>
<text x="314.29" y="280.75" class="tk">0.97</text>
<line x1="32.5" y1="267.40" x2="36.0" y2="267.40" stroke="#262626" stroke-width="0.75"/>
<line x1="323.5" y1="267.40" x2="320.0" y2="267.40" stroke="#262626" stroke-width="0.75"/>
<text x="23.86" y="271.50" class="tk">0</text>
<line x1="32.5" y1="236.06" x2="36.0" y2="236.06" stroke="#262626" stroke-width="0.75"/>
<line x1="323.5" y1="236.06" x2="320.0" y2="236.06" stroke="#262626" stroke-width="0.75"/>
<path d="M21.48,240.16 L21.48,233.42" stroke="#262626" fill="none" stroke-width="1.04"/>
<path d="M21.68,233.51 L21.01,233.42 C20.82,234.37 19.96,234.84 18.92,234.84 L18.92,235.60 C20.06,235.60 20.82,235.22 21.68,234.65 Z" fill="#262626"/>
<text x="23.92" y="240.16" class="tk">0</text>
<line x1="32.5" y1="204.72" x2="36.0" y2="204.72" stroke="#262626" stroke-width="0.75"/>
<line x1="323.5" y1="204.72" x2="320.0" y2="204.72" stroke="#262626" stroke-width="0.75"/>
<text x="18.63" y="208.82" class="tk">20</text>
<line x1="32.5" y1="173.39" x2="36.0" y2="173.39" stroke="#262626" stroke-width="0.75"/>
<line x1="323.5" y1="173.39" x2="320.0" y2="173.39" stroke="#262626" stroke-width="0.75"/>
<text x="18.63" y="177.49" class="tk">30</text>
<line x1="32.5" y1="142.05" x2="36.0" y2="142.05" stroke="#262626" stroke-width="0.75"/>
<line x1="323.5" y1="142.05" x2="320.0" y2="142.05" stroke="#262626" stroke-width="0.75"/>
<text x="18.63" y="146.15" class="tk">40</text>
<line x1="32.5" y1="110.71" x2="36.0" y2="110.71" stroke="#262626" stroke-width="0.75"/>
<line x1="323.5" y1="110.71" x2="320.0" y2="110.71" stroke="#262626" stroke-width="0.75"/>
<text x="18.63" y="114.81" class="tk">50</text>
<line x1="32.5" y1="79.37" x2="36.0" y2="79.37" stroke="#262626" stroke-width="0.75"/>
<line x1="323.5" y1="79.37" x2="320.0" y2="79.37" stroke="#262626" stroke-width="0.75"/>
<text x="18.63" y="83.47" class="tk">60</text>
<line x1="32.5" y1="48.04" x2="36.0" y2="48.04" stroke="#262626" stroke-width="0.75"/>
<line x1="323.5" y1="48.04" x2="320.0" y2="48.04" stroke="#262626" stroke-width="0.75"/>
<text x="18.63" y="52.14" class="tk">70</text>
<line x1="32.5" y1="16.70" x2="36.0" y2="16.70" stroke="#262626" stroke-width="0.75"/>
<line x1="323.5" y1="16.70" x2="320.0" y2="16.70" stroke="#262626" stroke-width="0.75"/>
<text x="18.63" y="20.80" class="tk">80</text>
<rect x="32.5" y="16.7" width="291.0" height="250.7" fill="none" stroke="#262626" stroke-width="0.75"/>
<line x1="387.50" y1="267.4" x2="387.50" y2="263.9" stroke="#262626" stroke-width="0.75"/>
<line x1="387.50" y1="16.7" x2="387.50" y2="20.2" stroke="#262626" stroke-width="0.75"/>
<text x="384.84" y="280.75" class="tk">0</text>
<line x1="417.29" y1="267.4" x2="417.29" y2="263.9" stroke="#262626" stroke-width="0.75"/>
<line x1="417.29" y1="16.7" x2="417.29" y2="20.2" stroke="#262626" stroke-width="0.75"/>
<text x="410.74" y="280.75" class="tk">0.</text>
<path d="M421.51,280.75 L421.51,274.00" stroke="#262626" fill="none" stroke-width="1.04"/>
<path d="M421.70,274.10 L421.04,274.00 C420.85,274.95 419.99,275.43 418.95,275.43 L418.95,276.19 C420.09,276.19 420.85,275.81 421.70,275.24 Z" fill="#262626"/>
<line x1="447.09" y1="267.4" x2="447.09" y2="263.9" stroke="#262626" stroke-width="0.75"/>
<line x1="447.09" y1="16.7" x2="447.09" y2="20.2" stroke="#262626" stroke-width="0.75"/>
<text x="440.53" y="280.75" class="tk">0.2</text>
<line x1="476.88" y1="267.4" x2="476.88" y2="263.9" stroke="#262626" stroke-width="0.75"/>
<line x1="476.88" y1="16.7" x2="476.88" y2="20.2" stroke="#262626" stroke-width="0.75"/>
<text x="470.28" y="280.75" class="tk">0.3</text>
<line x1="506.68" y1="267.4" x2="506.68" y2="263.9" stroke="#262626" stroke-width="0.75"/>
<line x1="506.68" y1="16.7" x2="506.68" y2="20.2" stroke="#262626" stroke-width="0.75"/>
<text x="500.03" y="280.75" class="tk">0.4</text>
<line x1="536.47" y1="267.4" x2="536.47" y2="263.9" stroke="#262626" stroke-width="0.75"/>
<line x1="536.47" y1="16.7" x2="536.47" y2="20.2" stroke="#262626" stroke-width="0.75"/>
<text x="529.87" y="280.75" class="tk">0.5</text>
<line x1="566.26" y1="267.4" x2="566.26" y2="263.9" stroke="#262626" stroke-width="0.75"/>
<line x1="566.26" y1="16.7" x2="566.26" y2="20.2" stroke="#262626" stroke-width="0.75"/>
<text x="559.66" y="280.75" class="tk">0.6</text>
<line x1="596.06" y1="267.4" x2="596.06" y2="263.9" stroke="#262626" stroke-width="0.75"/>
<line x1="596.06" y1="16.7" x2="596.06" y2="20.2" stroke="#262626" stroke-width="0.75"/>
<text x="589.50" y="280.75" class="tk">0.7</text>
<line x1="625.85" y1="267.4" x2="625.85" y2="263.9" stroke="#262626" stroke-width="0.75"/>
<line x1="625.85" y1="16.7" x2="625.85" y2="20.2" stroke="#262626" stroke-width="0.75"/>
<text x="619.25" y="280.75" class="tk">0.8</text>
<line x1="655.64" y1="267.4" x2="655.64" y2="263.9" stroke="#262626" stroke-width="0.75"/>
<line x1="655.64" y1="16.7" x2="655.64" y2="20.2" stroke="#262626" stroke-width="0.75"/>
<text x="649.09" y="280.75" class="tk">0.9</text>
<line x1="676.50" y1="267.4" x2="676.50" y2="263.9" stroke="#262626" stroke-width="0.75"/>
<line x1="676.50" y1="16.7" x2="676.50" y2="20.2" stroke="#262626" stroke-width="0.75"/>
<text x="667.28" y="280.75" class="tk">0.97</text>
<line x1="387.5" y1="267.40" x2="391.0" y2="267.40" stroke="#262626" stroke-width="0.75"/>
<line x1="676.5" y1="267.40" x2="673.0" y2="267.40" stroke="#262626" stroke-width="0.75"/>
<text x="378.86" y="271.50" class="tk">0</text>
<line x1="387.5" y1="236.06" x2="391.0" y2="236.06" stroke="#262626" stroke-width="0.75"/>
<line x1="676.5" y1="236.06" x2="673.0" y2="236.06" stroke="#262626" stroke-width="0.75"/>
<path d="M376.49,240.16 L376.49,233.42" stroke="#262626" fill="none" stroke-width="1.04"/>
<path d="M376.68,233.51 L376.01,233.42 C375.82,234.37 374.97,234.84 373.92,234.84 L373.92,235.60 C375.06,235.60 375.82,235.22 376.68,234.65 Z" fill="#262626"/>
<text x="378.92" y="240.16" class="tk">0</text>
<line x1="387.5" y1="204.72" x2="391.0" y2="204.72" stroke="#262626" stroke-width="0.75"/>
<line x1="676.5" y1="204.72" x2="673.0" y2="204.72" stroke="#262626" stroke-width="0.75"/>
<text x="373.63" y="208.82" class="tk">20</text>
<line x1="387.5" y1="173.39" x2="391.0" y2="173.39" stroke="#262626" stroke-width="0.75"/>
<line x1="676.5" y1="173.39" x2="673.0" y2="173.39" stroke="#262626" stroke-width="0.75"/>
<text x="373.63" y="177.49" class="tk">30</text>
<line x1="387.5" y1="142.05" x2="391.0" y2="142.05" stroke="#262626" stroke-width="0.75"/>
<line x1="676.5" y1="142.05" x2="673.0" y2="142.05" stroke="#262626" stroke-width="0.75"/>
<text x="373.63" y="146.15" class="tk">40</text>
<line x1="387.5" y1="110.71" x2="391.0" y2="110.71" stroke="#262626" stroke-width="0.75"/>
<line x1="676.5" y1="110.71" x2="673.0" y2="110.71" stroke="#262626" stroke-width="0.75"/>
<text x="373.63" y="114.81" class="tk">50</text>
<line x1="387.5" y1="79.37" x2="391.0" y2="79.37" stroke="#262626" stroke-width="0.75"/>
<line x1="676.5" y1="79.37" x2="673.0" y2="79.37" stroke="#262626" stroke-width="0.75"/>
<text x="373.63" y="83.47" class="tk">60</text>
<line x1="387.5" y1="48.04" x2="391.0" y2="48.04" stroke="#262626" stroke-width="0.75"/>
<line x1="676.5" y1="48.04" x2="673.0" y2="48.04" stroke="#262626" stroke-width="0.75"/>
<text x="373.63" y="52.14" class="tk">70</text>
<line x1="387.5" y1="16.70" x2="391.0" y2="16.70" stroke="#262626" stroke-width="0.75"/>
<line x1="676.5" y1="16.70" x2="673.0" y2="16.70" stroke="#262626" stroke-width="0.75"/>
<text x="373.63" y="20.80" class="tk">80</text>
<rect x="387.5" y="16.7" width="289.0" height="250.7" fill="none" stroke="#262626" stroke-width="0.75"/>
<rect x="135.8" y="16.7" width="88.69999999999999" height="67.39999999999999" fill="#fff" stroke="#262626" stroke-width="0.75"/>
<line x1="137.9" y1="26.50" x2="157.8" y2="26.50" stroke="#0000ff" stroke-width="1" stroke-dasharray="3.2 1.2 0.8 1.2" fill="none"/>
<g transform="translate(159.30,24.00)" fill="none" stroke="#000" stroke-linecap="round" stroke-linejoin="round"><path d="M0.2,1.9 C0.5,0.9 0.9,0.3 1.5,0.3 C2.2,0.3 2.5,0.8 2.4,1.4" stroke-width="0.75"/><path d="M2.45,1.0 L1.75,5.9" stroke-width="1.2"/><path d="M2.6,2.2 C3.1,1.0 3.9,0.3 4.9,0.3 C5.9,0.3 6.5,0.6 6.4,1.5" stroke-width="0.85"/><path d="M6.4,1.4 L5.7,4.3" stroke-width="1.15"/><path d="M5.7,4.2 C5.4,5.3 5.8,5.8 6.4,5.7 C7.0,5.6 7.5,5.0 7.8,4.5" stroke-width="0.75"/></g>
<line x1="171.7" y1="25.25" x2="180.3" y2="25.25" stroke="#222" stroke-width="0.85"/>
<line x1="171.7" y1="27.75" x2="180.3" y2="27.75" stroke="#222" stroke-width="0.85"/>
<text x="184.59" y="29.90" class="lg">1</text>
<line x1="137.9" y1="42.80" x2="157.8" y2="42.80" stroke="#000" stroke-width="1.5" fill="none" stroke-linejoin="round"/>
<g transform="translate(159.30,40.30)" fill="none" stroke="#000" stroke-linecap="round" stroke-linejoin="round"><path d="M0.2,1.9 C0.5,0.9 0.9,0.3 1.5,0.3 C2.2,0.3 2.5,0.8 2.4,1.4" stroke-width="0.75"/><path d="M2.45,1.0 L1.75,5.9" stroke-width="1.2"/><path d="M2.6,2.2 C3.1,1.0 3.9,0.3 4.9,0.3 C5.9,0.3 6.5,0.6 6.4,1.5" stroke-width="0.85"/><path d="M6.4,1.4 L5.7,4.3" stroke-width="1.15"/><path d="M5.7,4.2 C5.4,5.3 5.8,5.8 6.4,5.7 C7.0,5.6 7.5,5.0 7.8,4.5" stroke-width="0.75"/></g>
<line x1="171.7" y1="41.55" x2="180.3" y2="41.55" stroke="#222" stroke-width="0.85"/>
<line x1="171.7" y1="44.05" x2="180.3" y2="44.05" stroke="#222" stroke-width="0.85"/>
<text x="184.59" y="46.20" class="lg">1.6621</text>
<line x1="137.9" y1="59.10" x2="157.8" y2="59.10" stroke="#ff0000" stroke-width="1.05" fill="none"/>
<g transform="translate(159.30,56.60)" fill="none" stroke="#000" stroke-linecap="round" stroke-linejoin="round"><path d="M0.2,1.9 C0.5,0.9 0.9,0.3 1.5,0.3 C2.2,0.3 2.5,0.8 2.4,1.4" stroke-width="0.75"/><path d="M2.45,1.0 L1.75,5.9" stroke-width="1.2"/><path d="M2.6,2.2 C3.1,1.0 3.9,0.3 4.9,0.3 C5.9,0.3 6.5,0.6 6.4,1.5" stroke-width="0.85"/><path d="M6.4,1.4 L5.7,4.3" stroke-width="1.15"/><path d="M5.7,4.2 C5.4,5.3 5.8,5.8 6.4,5.7 C7.0,5.6 7.5,5.0 7.8,4.5" stroke-width="0.75"/></g>
<line x1="171.7" y1="57.85" x2="180.3" y2="57.85" stroke="#222" stroke-width="0.85"/>
<line x1="171.7" y1="60.35" x2="180.3" y2="60.35" stroke="#222" stroke-width="0.85"/>
<text x="185.26" y="62.50" class="lg">2</text>
<line x1="137.9" y1="75.40" x2="157.8" y2="75.40" stroke="#149114" stroke-width="1.1" stroke-dasharray="4.4 2.0" fill="none" stroke-opacity="0.75"/>
<g transform="translate(159.30,72.90)" fill="none" stroke="#000" stroke-linecap="round" stroke-linejoin="round"><path d="M0.2,1.9 C0.5,0.9 0.9,0.3 1.5,0.3 C2.2,0.3 2.5,0.8 2.4,1.4" stroke-width="0.75"/><path d="M2.45,1.0 L1.75,5.9" stroke-width="1.2"/><path d="M2.6,2.2 C3.1,1.0 3.9,0.3 4.9,0.3 C5.9,0.3 6.5,0.6 6.4,1.5" stroke-width="0.85"/><path d="M6.4,1.4 L5.7,4.3" stroke-width="1.15"/><path d="M5.7,4.2 C5.4,5.3 5.8,5.8 6.4,5.7 C7.0,5.6 7.5,5.0 7.8,4.5" stroke-width="0.75"/></g>
<line x1="171.7" y1="74.15" x2="180.3" y2="74.15" stroke="#222" stroke-width="0.85"/>
<line x1="171.7" y1="76.65" x2="180.3" y2="76.65" stroke="#222" stroke-width="0.85"/>
<text x="185.13" y="78.80" class="lg">3</text>
<rect x="507.3" y="19.65" width="68.49999999999994" height="66.44999999999999" fill="#fff" stroke="#262626" stroke-width="0.75"/>
<line x1="509.3" y1="28.60" x2="529.7" y2="28.60" stroke="#0000ff" stroke-width="1" fill="none"/>
<g transform="translate(530.90,26.10)" fill="none" stroke="#000" stroke-linecap="round" stroke-linejoin="round"><path d="M0.2,1.9 C0.5,0.9 0.9,0.3 1.5,0.3 C2.2,0.3 2.5,0.8 2.4,1.4" stroke-width="0.75"/><path d="M2.45,1.0 L1.75,5.9" stroke-width="1.2"/><path d="M2.6,2.2 C3.1,1.0 3.9,0.3 4.9,0.3 C5.9,0.3 6.5,0.6 6.4,1.5" stroke-width="0.85"/><path d="M6.4,1.4 L5.7,4.3" stroke-width="1.15"/><path d="M5.7,4.2 C5.4,5.3 5.8,5.8 6.4,5.7 C7.0,5.6 7.5,5.0 7.8,4.5" stroke-width="0.75"/></g>
<line x1="543.2" y1="27.35" x2="552.4" y2="27.35" stroke="#222" stroke-width="0.85"/>
<line x1="543.2" y1="29.85" x2="552.4" y2="29.85" stroke="#222" stroke-width="0.85"/>
<text x="556.39" y="32.00" class="lg">1.2</text>
<line x1="509.3" y1="44.87" x2="529.7" y2="44.87" stroke="#149114" stroke-width="1.1" stroke-dasharray="4.4 2.0" fill="none" stroke-opacity="0.75"/>
<g transform="translate(530.90,42.37)" fill="none" stroke="#000" stroke-linecap="round" stroke-linejoin="round"><path d="M0.2,1.9 C0.5,0.9 0.9,0.3 1.5,0.3 C2.2,0.3 2.5,0.8 2.4,1.4" stroke-width="0.75"/><path d="M2.45,1.0 L1.75,5.9" stroke-width="1.2"/><path d="M2.6,2.2 C3.1,1.0 3.9,0.3 4.9,0.3 C5.9,0.3 6.5,0.6 6.4,1.5" stroke-width="0.85"/><path d="M6.4,1.4 L5.7,4.3" stroke-width="1.15"/><path d="M5.7,4.2 C5.4,5.3 5.8,5.8 6.4,5.7 C7.0,5.6 7.5,5.0 7.8,4.5" stroke-width="0.75"/></g>
<line x1="543.2" y1="43.62" x2="552.4" y2="43.62" stroke="#222" stroke-width="0.85"/>
<line x1="543.2" y1="46.12" x2="552.4" y2="46.12" stroke="#222" stroke-width="0.85"/>
<text x="556.39" y="48.27" class="lg">1.4</text>
<line x1="509.3" y1="61.14" x2="529.7" y2="61.14" stroke="#000" stroke-width="1.5" fill="none" stroke-linejoin="round"/>
<g transform="translate(530.90,58.64)" fill="none" stroke="#000" stroke-linecap="round" stroke-linejoin="round"><path d="M0.2,1.9 C0.5,0.9 0.9,0.3 1.5,0.3 C2.2,0.3 2.5,0.8 2.4,1.4" stroke-width="0.75"/><path d="M2.45,1.0 L1.75,5.9" stroke-width="1.2"/><path d="M2.6,2.2 C3.1,1.0 3.9,0.3 4.9,0.3 C5.9,0.3 6.5,0.6 6.4,1.5" stroke-width="0.85"/><path d="M6.4,1.4 L5.7,4.3" stroke-width="1.15"/><path d="M5.7,4.2 C5.4,5.3 5.8,5.8 6.4,5.7 C7.0,5.6 7.5,5.0 7.8,4.5" stroke-width="0.75"/></g>
<line x1="543.2" y1="59.89" x2="552.4" y2="59.89" stroke="#222" stroke-width="0.85"/>
<line x1="543.2" y1="62.39" x2="552.4" y2="62.39" stroke="#222" stroke-width="0.85"/>
<text x="556.39" y="64.54" class="lg">1.6</text>
<line x1="509.3" y1="77.41" x2="529.7" y2="77.41" stroke="#ff0000" stroke-width="1.05" fill="none"/>
<g transform="translate(530.90,74.91)" fill="none" stroke="#000" stroke-linecap="round" stroke-linejoin="round"><path d="M0.2,1.9 C0.5,0.9 0.9,0.3 1.5,0.3 C2.2,0.3 2.5,0.8 2.4,1.4" stroke-width="0.75"/><path d="M2.45,1.0 L1.75,5.9" stroke-width="1.2"/><path d="M2.6,2.2 C3.1,1.0 3.9,0.3 4.9,0.3 C5.9,0.3 6.5,0.6 6.4,1.5" stroke-width="0.85"/><path d="M6.4,1.4 L5.7,4.3" stroke-width="1.15"/><path d="M5.7,4.2 C5.4,5.3 5.8,5.8 6.4,5.7 C7.0,5.6 7.5,5.0 7.8,4.5" stroke-width="0.75"/></g>
<line x1="543.2" y1="76.16" x2="552.4" y2="76.16" stroke="#222" stroke-width="0.85"/>
<line x1="543.2" y1="78.66" x2="552.4" y2="78.66" stroke="#222" stroke-width="0.85"/>
<text x="556.39" y="80.81" class="lg">1.8</text>
<text transform="matrix(0.9441,0,0,1,169.046,9.820)" font-family="Liberation Serif" font-style="normal" font-weight="normal" font-size="14.667" fill="#000">(</text>
<text transform="matrix(1.2940,0,0,1,173.907,9.773)" font-family="Liberation Serif" font-style="normal" font-weight="bold" font-size="12.708" fill="#000">a</text>
<text transform="matrix(0.9965,0,0,1,182.062,9.820)" font-family="Liberation Serif" font-style="normal" font-weight="normal" font-size="14.667" fill="#000">)</text>
<text transform="matrix(0.9890,0,0,1,522.215,9.897)" font-family="Liberation Serif" font-style="normal" font-weight="normal" font-size="14.778" fill="#000">(</text>
<text transform="matrix(1.2048,0,0,1,527.945,9.771)" font-family="Liberation Serif" font-style="normal" font-weight="bold" font-size="12.857" fill="#000">b</text>
<text transform="matrix(0.9370,0,0,1,536.585,9.897)" font-family="Liberation Serif" font-style="normal" font-weight="normal" font-size="14.778" fill="#000">)</text>
<text transform="matrix(1.1902,0,0,1,157.059,294.400)" font-family="Liberation Serif" font-style="italic" font-weight="normal" font-size="13.692" fill="#000">T</text>
<text transform="matrix(0.9925,0,0,1,165.911,296.800)" font-family="Liberation Serif" font-style="normal" font-weight="normal" font-size="9.545" fill="#000">min</text>
<text transform="matrix(1.0577,0,0,1,182.100,297.794)" font-family="Liberation Serif" font-style="normal" font-weight="normal" font-size="20.597" fill="#000">/</text>
<text transform="matrix(1.2849,0,0,1,187.169,294.400)" font-family="Liberation Serif" font-style="italic" font-weight="normal" font-size="13.692" fill="#000">T</text>
<text transform="matrix(1.1902,0,0,1,511.059,294.400)" font-family="Liberation Serif" font-style="italic" font-weight="normal" font-size="13.692" fill="#000">T</text>
<text transform="matrix(0.9925,0,0,1,519.911,296.800)" font-family="Liberation Serif" font-style="normal" font-weight="normal" font-size="9.545" fill="#000">min</text>
<text transform="matrix(1.0577,0,0,1,536.100,297.794)" font-family="Liberation Serif" font-style="normal" font-weight="normal" font-size="20.597" fill="#000">/</text>
<text transform="matrix(1.2849,0,0,1,541.169,294.400)" font-family="Liberation Serif" font-style="italic" font-weight="normal" font-size="13.692" fill="#000">T</text>
<text transform="matrix(0,-1.0143,1,0,9.666,209.279)" font-family="Liberation Serif" font-style="italic" font-weight="normal" font-size="13.380" fill="#000">θ</text>
<text transform="matrix(0,-1.0556,1,0,11.800,202.286)" font-family="Liberation Serif" font-style="normal" font-weight="normal" font-size="8.788" fill="#000">min</text>
<text transform="matrix(0,-0.8627,1,0,10.320,181.106)" font-family="Liberation Serif" font-style="normal" font-weight="normal" font-size="14.667" fill="#000">(°)</text>
<text transform="matrix(0,-0.9053,1,0,10.167,161.623)" font-family="Liberation Serif" font-style="normal" font-weight="normal" font-size="14.444" fill="#000">(</text>
<text transform="matrix(0,-1.1658,1,0,10.073,157.393)" font-family="Liberation Serif" font-style="normal" font-weight="normal" font-size="12.708" fill="#000">error</text>
<text transform="matrix(0,-0.9496,1,0,12.200,123.506)" font-family="Liberation Serif" font-style="normal" font-weight="normal" font-size="18.596" fill="#000">≤</text>
<text transform="matrix(0,-0.9347,1,0,10.320,109.048)" font-family="Liberation Serif" font-style="normal" font-weight="normal" font-size="14.667" fill="#000">0.19°)</text>
<text transform="matrix(0,-1.0143,1,0,363.866,209.279)" font-family="Liberation Serif" font-style="italic" font-weight="normal" font-size="13.380" fill="#000">θ</text>
<text transform="matrix(0,-1.0556,1,0,366.000,202.286)" font-family="Liberation Serif" font-style="normal" font-weight="normal" font-size="8.788" fill="#000">min</text>
<text transform="matrix(0,-0.8627,1,0,364.520,181.106)" font-family="Liberation Serif" font-style="normal" font-weight="normal" font-size="14.667" fill="#000">(°)</text>
<text transform="matrix(0,-0.9053,1,0,364.367,161.623)" font-family="Liberation Serif" font-style="normal" font-weight="normal" font-size="14.444" fill="#000">(</text>
<text transform="matrix(0,-1.1658,1,0,364.273,157.393)" font-family="Liberation Serif" font-style="normal" font-weight="normal" font-size="12.708" fill="#000">error</text>
<text transform="matrix(0,-0.9496,1,0,366.400,123.506)" font-family="Liberation Serif" font-style="normal" font-weight="normal" font-size="18.596" fill="#000">≤</text>
<text transform="matrix(0,-0.9347,1,0,364.520,109.048)" font-family="Liberation Serif" font-style="normal" font-weight="normal" font-size="14.667" fill="#000">0.30°)</text>
</svg></body></html>
